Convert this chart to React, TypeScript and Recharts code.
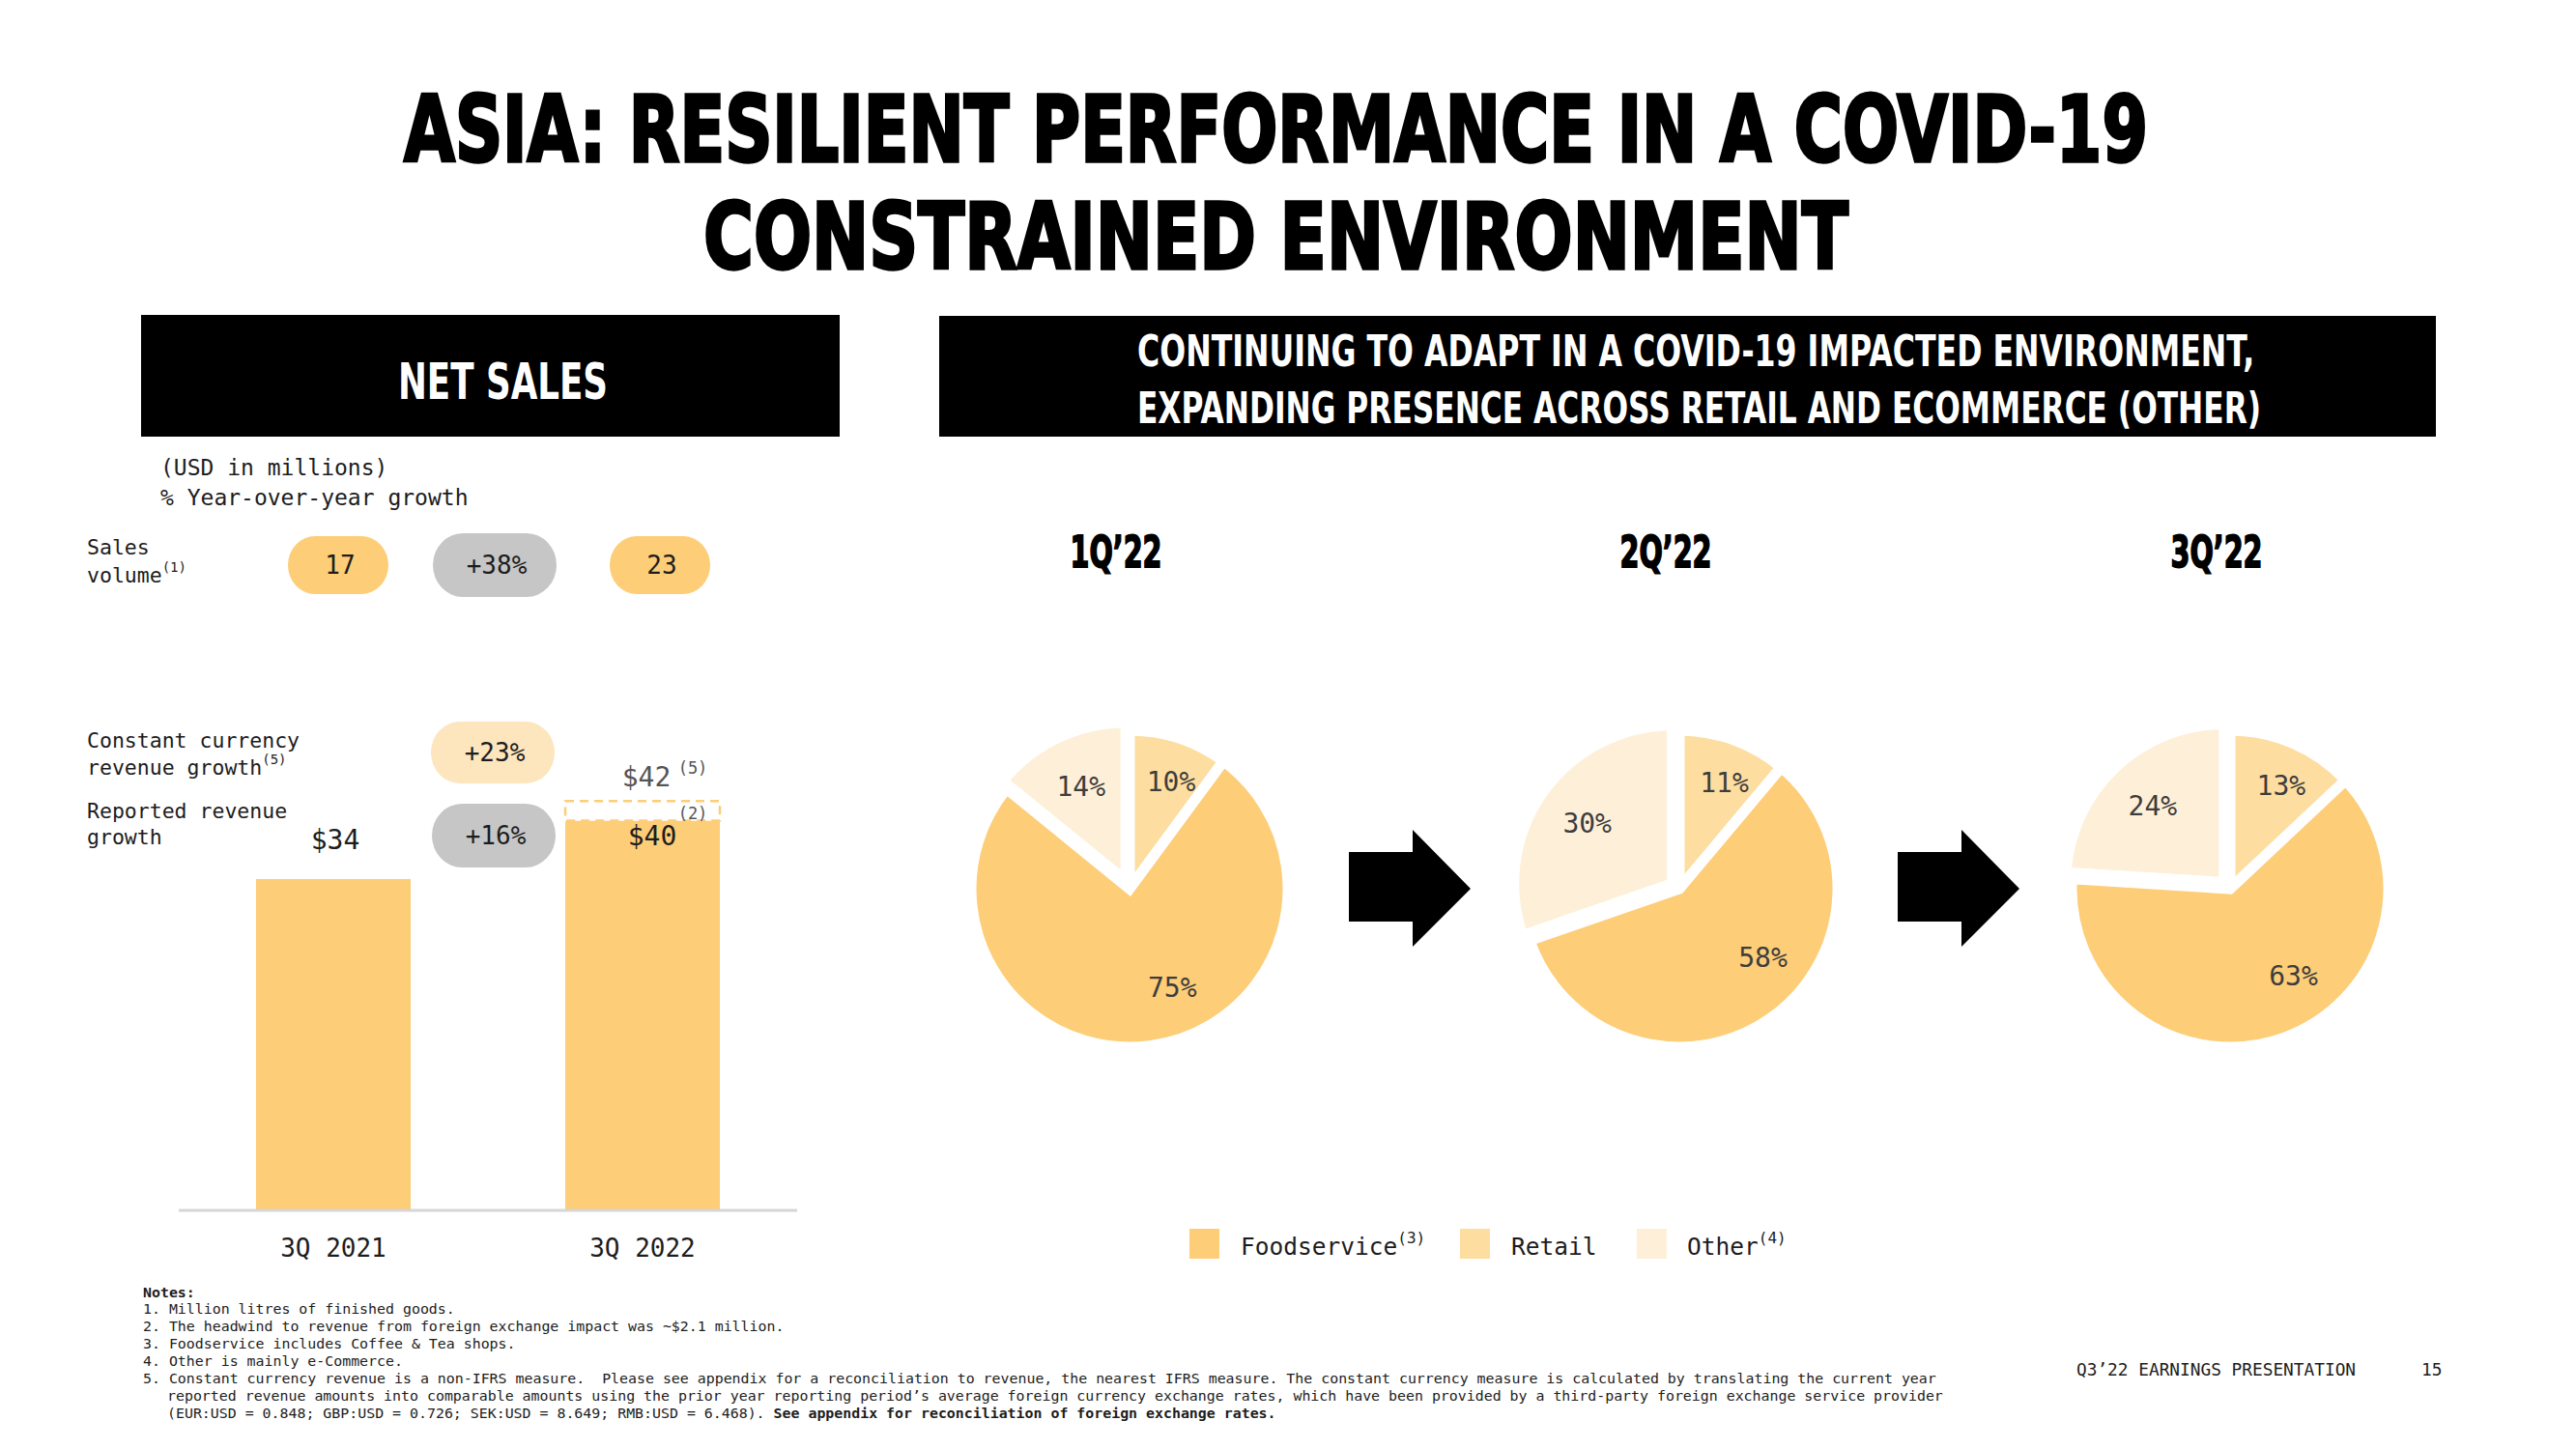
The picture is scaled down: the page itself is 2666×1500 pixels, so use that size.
import React, { useLayoutEffect, useRef, useState } from 'react';
import { BarChart, Bar, XAxis, YAxis, LabelList, PieChart, Pie, Cell } from 'recharts';

// ---------------- data ----------------
const barCategories = ['3Q 2021', '3Q 2022'];
const reportedRevenue = [34, 40];
const fxHeadwind = [0, 2];
const salesVolume = ['17', '23'];
const salesVolumeGrowth = '+38%';
const constantCurrencyGrowth = '+23%';
const reportedGrowth = '+16%';

const quarters = ['1Q’22', '2Q’22', '3Q’22'];
const segments = ['Retail', 'Foodservice', 'Other'];
const retailShare = [10, 11, 13];
const foodserviceShare = [75, 58, 63];
const otherShare = [14, 30, 24];
const legendOrder = ['Foodservice', 'Retail', 'Other'];
const legendNotes = ['(3)', '', '(4)'];

const titleLines = ['ASIA: RESILIENT PERFORMANCE IN A COVID-19', 'CONSTRAINED ENVIRONMENT'];
const rightHeaderLines = [
  'CONTINUING TO ADAPT IN A COVID-19 IMPACTED ENVIRONMENT,',
  'EXPANDING PRESENCE ACROSS RETAIL AND ECOMMERCE (OTHER)',
];
const footnoteLines = [
  '1. Million litres of finished goods.',
  '2. The headwind to revenue from foreign exchange impact was ~$2.1 million.',
  '3. Foodservice includes Coffee & Tea shops.',
  '4. Other is mainly e-Commerce.',
  '5. Constant currency revenue is a non-IFRS measure.  Please see appendix for a reconciliation to revenue, the nearest IFRS measure. The constant currency measure is calculated by translating the current year',
  'reported revenue amounts into comparable amounts using the prior year reporting period’s average foreign currency exchange rates, which have been provided by a third-party foreign exchange service provider',
];
const footnoteLast = '(EUR:USD = 0.848; GBP:USD = 0.726; SEK:USD = 8.649; RMB:USD = 6.468).';
const footnoteLastBold = ' See appendix for reconciliation of foreign exchange rates.';

// ---------------- styles ----------------
const COLORS: Record<string, string> = { Foodservice: '#FDCD78', Retail: '#FDDDA0', Other: '#FEF0D8' };
const GREY_BUBBLE = '#C6C6C6';
const LIGHT_BUBBLE = '#FDE5BD';
const MONO = '"DejaVu Sans Mono", "Liberation Mono", monospace';
const DISPLAY = '"DejaVu Sans", "Liberation Sans", sans-serif';
const INK = '#1d1d1d';

const PIE_LEFT = 950;
const PIE_TOP = 640;
const PIE_CX = [1169, 1738, 2308];
const PIE_CY = 920;
const PIE_R = 164;
const PIE_STROKE = 11;
const EXPLODE = 9;
const RAD = Math.PI / 180;
const LABEL_R: Record<string, number> = { Retail: 119, Foodservice: 112, Other: 108 };
const LABEL_ROT: Record<string, number> = { Retail: -3, Foodservice: 16, Other: 0 };

const barData = barCategories.map((c, i) => ({
  cat: c,
  reported: reportedRevenue[i],
  fx: fxHeadwind[i],
  constantTotal: fxHeadwind[i] > 0 ? reportedRevenue[i] + fxHeadwind[i] : null,
}));

// Text squeezed to a target width (font size from measurement, height by vertical scale)
function FitText({ x, y, width, capHeight, anchor = 'start', fill = '#000', strokeWidth = 0, children }: any) {
  const ref = useRef<SVGTextElement>(null);
  const [fs, setFs] = useState(capHeight / 0.729);
  useLayoutEffect(() => {
    const el = ref.current;
    if (!el) return;
    const len = el.getComputedTextLength();
    if (len > 0) {
      const nf = (fs * width) / len;
      if (Math.abs(nf - fs) > 0.05) setFs(nf);
    }
  }, [fs, width]);
  const sy = capHeight / (0.729 * fs);
  return (
    <text
      ref={ref}
      x={x}
      y={0}
      transform={`translate(0, ${y}) scale(1, ${sy})`}
      textAnchor={anchor}
      fontFamily={DISPLAY}
      fontWeight={700}
      fontSize={fs}
      fill={fill}
      stroke={strokeWidth ? fill : 'none'}
      strokeWidth={strokeWidth}
    >
      {children}
    </text>
  );
}

const CategoryTick = (props: any) => {
  const { x, y, payload } = props;
  return (
    <text x={x} y={y + 39} textAnchor="middle" dominantBaseline="central" fontFamily={MONO} fontSize={26} fill={INK}>
      {payload.value}
    </text>
  );
};

const ReportedLabel = (props: any) => {
  const { x, y, width, index, value } = props;
  const i = index ?? reportedRevenue.indexOf(Number(value));
  const above = !(fxHeadwind[i] > 0);
  const cx = x + width / 2 + (above ? 2 : 10);
  const cy = above ? y - 40 : y + 16;
  return (
    <text x={cx} y={cy} textAnchor="middle" dominantBaseline="central" fontFamily={MONO} fontSize={28} fill={INK}>
      {`$${reportedRevenue[i]}`}
    </text>
  );
};

const FxLabel = (props: any) => {
  const { x, y, width, value } = props;
  const total = Array.isArray(value) ? value[value.length - 1] : value;
  if (total === null || total === undefined || total === '' || Number.isNaN(Number(total))) return null;
  const c = x + width / 2;
  return (
    <g>
      <text x={c + 4} y={y - 25} textAnchor="middle" dominantBaseline="central" fontFamily={MONO} fontSize={28} fill="#555">
        {`$${total}`}
      </text>
      <text x={c + 52} y={y - 34} textAnchor="middle" dominantBaseline="central" fontFamily={MONO} fontSize={17} fill="#555">
        (5)
      </text>
      <text x={c + 52} y={y + 13} textAnchor="middle" dominantBaseline="central" fontFamily={MONO} fontSize={17} fill="#555">
        (2)
      </text>
    </g>
  );
};

const makePieLabel = (show: (seg: string) => boolean) => (props: any) => {
  const { cx, cy, midAngle, index } = props;
  const seg = segments[index];
  if (!show(seg)) return null;
  const a = (midAngle + LABEL_ROT[seg]) * RAD;
  const x = cx + LABEL_R[seg] * Math.cos(a);
  const y = cy - LABEL_R[seg] * Math.sin(a);
  return (
    <text x={x} y={y} textAnchor="middle" dominantBaseline="central" fontFamily={MONO} fontSize={28} fill="#3d3d3d">
      {`${props.value}%`}
    </text>
  );
};
const mainLabel = makePieLabel((s) => s !== 'Other');
const otherLabel = makePieLabel((s) => s === 'Other');

const Bubble = ({ cx, cy, w, h, fill, text }: any) => (
  <g>
    <rect x={cx - w / 2} y={cy - h / 2} width={w} height={h} rx={h * 0.47} ry={h * 0.5} fill={fill} />
    <text x={cx + 2} y={cy} textAnchor="middle" dominantBaseline="central" fontFamily={MONO} fontSize={26} fill={INK}>
      {text}
    </text>
  </g>
);

const Arrow = ({ x0 }: { x0: number }) => (
  <polygon
    points={`${x0},882 ${x0 + 66},882 ${x0 + 66},859 ${x0 + 126},920 ${x0 + 66},980 ${x0 + 66},954 ${x0},954`}
    fill="#000"
  />
);

function PieSection() {
  return (
    <PieChart width={1716} height={560} margin={{ top: 0, right: 0, bottom: 0, left: 0 }}>
      {quarters.map((q, qi) => {
        const vals = [retailShare[qi], foodserviceShare[qi], otherShare[qi]];
        const data = segments.map((s, k) => ({ name: s, value: vals[k] }));
        const total = vals.reduce((a, b) => a + b, 0);
        const otherStart = 90 - (360 * (vals[0] + vals[1])) / total;
        const otherMid = (otherStart + -270) / 2;
        const dx = EXPLODE * Math.cos(otherMid * RAD);
        const dy = -EXPLODE * Math.sin(otherMid * RAD);
        const cx = PIE_CX[qi] - PIE_LEFT;
        const cy = PIE_CY - PIE_TOP;
        return [
          <Pie
            key={`main-${q}`}
            data={data}
            dataKey="value"
            nameKey="name"
            cx={cx}
            cy={cy}
            outerRadius={PIE_R}
            startAngle={90}
            endAngle={-270}
            stroke="#fff"
            strokeWidth={PIE_STROKE}
            isAnimationActive={false}
            label={mainLabel}
            labelLine={false}
          >
            {data.map((d) => (
              <Cell key={d.name} fill={d.name === 'Other' ? 'none' : COLORS[d.name]} stroke={d.name === 'Other' ? 'none' : '#fff'} />
            ))}
          </Pie>,
          <Pie
            key={`other-${q}`}
            data={data}
            dataKey="value"
            nameKey="name"
            cx={cx + dx}
            cy={cy + dy}
            outerRadius={PIE_R}
            startAngle={90}
            endAngle={-270}
            stroke="#fff"
            strokeWidth={PIE_STROKE}
            isAnimationActive={false}
            label={otherLabel}
            labelLine={false}
          >
            {data.map((d) => (
              <Cell key={d.name} fill={d.name === 'Other' ? COLORS.Other : 'none'} stroke={d.name === 'Other' ? '#fff' : 'none'} />
            ))}
          </Pie>,
        ];
      })}
    </PieChart>
  );
}

function Overlay() {
  const legendSquareX = [1231, 1511, 1694];
  const legendTextX = [1284, 1564, 1746];
  return (
    <svg width={2666} height={1500} style={{ position: 'absolute', left: 0, top: 0, pointerEvents: 'none' }}>
      {/* main title */}
      <FitText x={418} y={167} width={1805} capHeight={69} strokeWidth={2.5}>
        {titleLines[0]}
      </FitText>
      <FitText x={728} y={278} width={1185} capHeight={69} strokeWidth={2.5}>
        {titleLines[1]}
      </FitText>

      {/* header boxes */}
      <rect x={146} y={326} width={723} height={126} fill="#000" />
      <FitText x={412} y={413} width={217} capHeight={37} fill="#fff">
        NET SALES
      </FitText>
      <rect x={972} y={327} width={1549} height={125} fill="#000" />
      <FitText x={1177} y={379} width={1156} capHeight={32} fill="#fff">
        {rightHeaderLines[0]}
      </FitText>
      <FitText x={1177} y={438} width={1163} capHeight={32} fill="#fff">
        {rightHeaderLines[1]}
      </FitText>

      {/* left annotations */}
      <g fontFamily={MONO} fill={INK} dominantBaseline="central">
        <text x={166} y={484} fontSize={23}>(USD in millions)</text>
        <text x={166} y={515} fontSize={23}>% Year-over-year growth</text>
        <text x={90} y={566} fontSize={21.5}>Sales</text>
        <text x={90} y={595} fontSize={21.5}>
          volume<tspan fontSize={14} dy={-8}>(1)</tspan>
        </text>
        <text x={90} y={766} fontSize={21.5}>Constant currency</text>
        <text x={90} y={794} fontSize={21.5}>
          revenue growth<tspan fontSize={14} dy={-8}>(5)</tspan>
        </text>
        <text x={90} y={839} fontSize={21.5}>Reported revenue</text>
        <text x={90} y={866} fontSize={21.5}>growth</text>
      </g>

      {/* bubbles */}
      <Bubble cx={350} cy={585} w={104} h={60} fill={COLORS.Foodservice} text={salesVolume[0]} />
      <Bubble cx={512} cy={585} w={128} h={66} fill={GREY_BUBBLE} text={salesVolumeGrowth} />
      <Bubble cx={683} cy={585} w={104} h={60} fill={COLORS.Foodservice} text={salesVolume[1]} />
      <Bubble cx={510} cy={779} w={128} h={64} fill={LIGHT_BUBBLE} text={constantCurrencyGrowth} />
      <Bubble cx={511} cy={865} w={128} h={66} fill={GREY_BUBBLE} text={reportedGrowth} />

      {/* quarter titles */}
      {quarters.map((q, i) => (
        <FitText key={q} x={PIE_CX[i] - 14} y={587} width={95} capHeight={32} anchor="middle" strokeWidth={1.2}>
          {q}
        </FitText>
      ))}

      {/* arrows */}
      <Arrow x0={1396} />
      <Arrow x0={1964} />

      {/* legend */}
      {legendOrder.map((name, i) => (
        <g key={name}>
          <rect x={legendSquareX[i]} y={1272} width={31} height={31} fill={COLORS[name]} />
          <text x={legendTextX[i]} y={1290} fontFamily={MONO} fontSize={24.5} fill={INK} dominantBaseline="central">
            {name}
            {legendNotes[i] ? <tspan fontSize={16} dy={-9}>{legendNotes[i]}</tspan> : null}
          </text>
        </g>
      ))}

      {/* footnotes */}
      <g fontFamily={MONO} fontSize={14.9} fill={INK} dominantBaseline="central">
        <text x={148} y={1338} fontWeight={700}>Notes:</text>
        {footnoteLines.map((l, i) => (
          <text key={i} x={i === 5 ? 173 : 148} y={[1355, 1373, 1391, 1409, 1427, 1445][i]} style={{ whiteSpace: 'pre' }}>
            {l}
          </text>
        ))}
        <text x={173} y={1463} style={{ whiteSpace: 'pre' }}>
          {footnoteLast}
          <tspan fontWeight={700}>{footnoteLastBold}</tspan>
        </text>
      </g>

      {/* footer */}
      <text x={2149} y={1417} fontFamily={MONO} fontSize={17.8} fill={INK} dominantBaseline="central">
        Q3’22 EARNINGS PRESENTATION
      </text>
      <text x={2506} y={1417} fontFamily={MONO} fontSize={17.8} fill={INK} dominantBaseline="central">
        15
      </text>
    </svg>
  );
}

export default function App() {
  return (
    <div style={{ position: 'absolute', left: 0, top: 0, width: 2666, height: 1500, background: '#fff', overflow: 'hidden' }}>
      <div style={{ position: 'absolute', left: 0, top: 0 }}>
        <BarChart width={900} height={1340} data={barData} margin={{ top: 799, right: 75, bottom: 0, left: 185 }}>
          <XAxis
            dataKey="cat"
            height={87}
            interval={0}
            tickLine={false}
            tickSize={0}
            tickMargin={0}
            axisLine={{ stroke: '#d6d6d6', strokeWidth: 3 }}
            tick={<CategoryTick />}
          />
          <YAxis hide domain={[0, 45]} type="number" />
          <Bar dataKey="reported" stackId="s" barSize={160} fill={COLORS.Foodservice} isAnimationActive={false}>
            <LabelList dataKey="reported" content={<ReportedLabel />} />
          </Bar>
          <Bar
            dataKey="fx"
            stackId="s"
            barSize={160}
            fill="#fff"
            stroke={COLORS.Foodservice}
            strokeWidth={2.5}
            strokeDasharray="9 6"
            isAnimationActive={false}
          >
            <LabelList dataKey="constantTotal" content={<FxLabel />} />
          </Bar>
        </BarChart>
      </div>
      <div style={{ position: 'absolute', left: PIE_LEFT, top: PIE_TOP }}>
        <PieSection />
      </div>
      <Overlay />
    </div>
  );
}
